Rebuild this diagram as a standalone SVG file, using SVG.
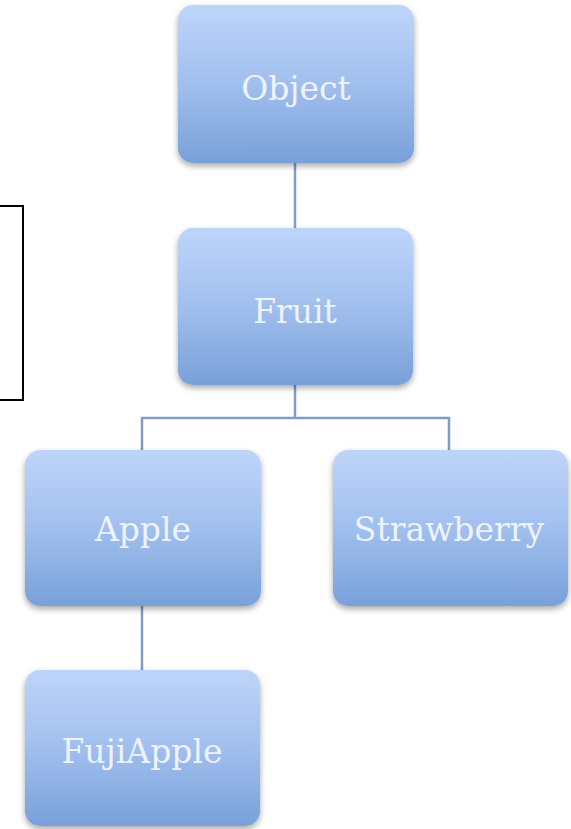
<svg xmlns="http://www.w3.org/2000/svg" width="571" height="829" viewBox="0 0 571 829">
<defs>
<linearGradient id="g" x1="0" y1="0" x2="0" y2="1">
<stop offset="0" stop-color="#bed5fa"/>
<stop offset="0.5" stop-color="#a1bfee"/>
<stop offset="1" stop-color="#78a0d9"/>
</linearGradient>
<filter id="sh" x="-10%" y="-10%" width="120%" height="125%">
<feGaussianBlur in="SourceAlpha" stdDeviation="3"/>
<feOffset dy="3"/>
<feComponentTransfer><feFuncA type="linear" slope="0.35"/></feComponentTransfer>
<feMerge><feMergeNode/><feMergeNode in="SourceGraphic"/></feMerge>
</filter>
</defs>
<style>
.box{fill:url(#g);filter:url(#sh)}
.lbl{font-family:"DejaVu Serif","Liberation Serif",serif;font-size:33px;fill:#eef3fb;text-anchor:middle}
.con{stroke:#7f9dc6;stroke-width:2.5;fill:none}
</style>
<rect width="571" height="829" fill="#ffffff"/>
<path d="M0 206 H23 V400 H0" fill="none" stroke="#000" stroke-width="2"/>
<g id="connectors">
<path class="con" d="M295 163 V228"/>
<path class="con" d="M295 385 V418 M142 450 V418 H449 V450"/>
<path class="con" d="M142 606 V670"/>
</g>
<g id="object"><rect class="box" x="178" y="5" width="236" height="158" rx="15"/><text class="lbl" x="296" y="100">Object</text></g>
<g id="fruit"><rect class="box" x="178" y="228" width="235" height="157" rx="15"/><text class="lbl" x="295" y="323">Fruit</text></g>
<g id="apple"><rect class="box" x="25" y="450" width="236" height="156" rx="15"/><text class="lbl" x="143" y="541">Apple</text></g>
<g id="strawberry"><rect class="box" x="333" y="450" width="235" height="156" rx="15"/><text class="lbl" x="449" y="541">Strawberry</text></g>
<g id="fujiapple"><rect class="box" x="25" y="670" width="235" height="156" rx="15"/><text class="lbl" x="142" y="763">FujiApple</text></g>
</svg>
